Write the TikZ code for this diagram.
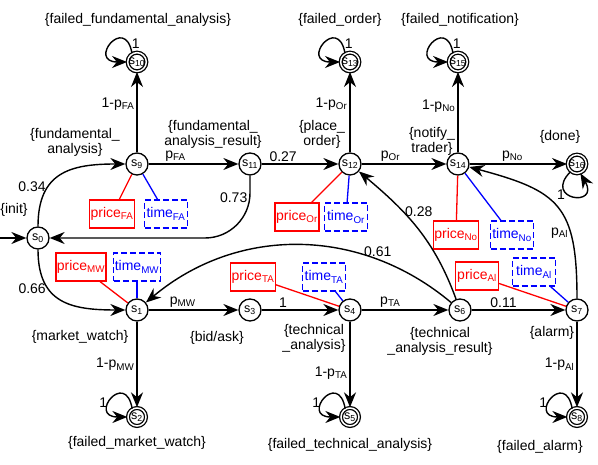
\documentclass[tikz,border=0pt]{standalone}
\usepackage{fontspec}
\setmainfont{Liberation Sans}
\usepackage{tikz}
\usetikzlibrary{arrows.meta, shapes, positioning, calc}

\begin{document}
\begin{tikzpicture}
    [
        x=1pt, y=1pt,
        every node/.style={font=\fontsize{14}{15}\selectfont},
        state/.style={circle, draw, line width=1.3pt, minimum size=22pt, inner sep=0pt, font=\fontsize{12.5}{13}\selectfont},
        absorbing/.style={state, double, line width=1.3pt, double distance=1.5pt, minimum size=18pt},
        trans/.style={line width=1.4pt, -{Stealth[length=15pt, width=12pt]}},
        prob/.style={inner sep=2pt},
        price box/.style={draw=priceRed, text=priceRed, line width=1.3pt, minimum width=43pt, minimum height=28pt, inner sep=1pt},
        time box/.style={draw=timeBlue, text=timeBlue, line width=1.3pt, dash pattern=on 6pt off 3pt, minimum width=43pt, minimum height=28pt, inner sep=1pt},
        price link/.style={draw=priceRed, line width=1.3pt},
        time link/.style={draw=timeBlue, line width=1.3pt}
    ]
    \definecolor{priceRed}{rgb}{1, 0, 0}
    \definecolor{timeBlue}{rgb}{0, 0, 1}
    \useasboundingbox (0,0) rectangle (598,465);

    \node [state] (s0) at (38,227) {s\textsubscript{0}};
    \node [state] (s1) at (137,155) {s\textsubscript{1}};
    \node [absorbing] (s2) at (137,48) {s\textsubscript{2}};
    \node [state] (s3) at (250,155) {s\textsubscript{3}};
    \node [state] (s4) at (350,155) {s\textsubscript{4}};
    \node [absorbing] (s5) at (350,48) {s\textsubscript{5}};
    \node [state] (s6) at (460,155) {s\textsubscript{6}};
    \node [state] (s7) at (577,155) {s\textsubscript{7}};
    \node [absorbing] (s8) at (577,48) {s\textsubscript{8}};
    \node [state] (s9) at (137,301) {s\textsubscript{9}};
    \node [absorbing] (s10) at (137,403) {s\textsubscript{10}};
    \node [state] (s11) at (250,301) {s\textsubscript{11}};
    \node [state] (s12) at (350,301) {s\textsubscript{12}};
    \node [absorbing] (s13) at (350,403) {s\textsubscript{13}};
    \node [state] (s14) at (458,301) {s\textsubscript{14}};
    \node [absorbing] (s15) at (458,403) {s\textsubscript{15}};
    \node [absorbing] (s16) at (577,301) {s\textsubscript{16}};

    \node (lInit) at (14,255) {\{init\}};
    \node (lFailFA) at (138,445) {\{failed\_fundamental\_analysis\}};
    \node (lFailOr) at (340,445) {\{failed\_order\}};
    \node (lFailNo) at (460,445) {\{failed\_notification\}};
    \node [align=center] (lFA) at (75,323) {\{fundamental\_\\analysis\}};
    \node [align=center] (lFAres) at (213,331) {\{fundamental\_\\analysis\_result\}};
    \node [align=center] (lOr) at (322,331) {\{place\_\\order\}};
    \node [align=center] (lNo) at (432,324) {\{notify\_\\trader\}};
    \node (lDone) at (560,328) {\{done\}};
    \node (lMW) at (80,128) {\{market\_watch\}};
    \node (lBid) at (217,127) {\{bid/ask\}};
    \node [align=center] (lTA) at (314,127) {\{technical\\\_analysis\}};
    \node [align=center] (lTAres) at (440,124) {\{technical\\\_analysis\_result\}};
    \node (lAl) at (552,132) {\{alarm\}};
    \node (lFailMW) at (137,22) {\{failed\_market\_watch\}};
    \node (lFailTA) at (350,20) {\{failed\_technical\_analysis\}};
    \node (lFailAl) at (540,18) {\{failed\_alarm\}};

    \node [price box] (pFA) at (112,251) {price\textsubscript{FA}};
    \node [time box] (tFA) at (166,251) {time\textsubscript{FA}};
    \node [price box] (pMW) at (81,198) {price\textsubscript{MW}};
    \node [time box] (tMW) at (137,198) {time\textsubscript{MW}};
    \node [price box] (pTA) at (253,188) {price\textsubscript{TA}};
    \node [time box] (tTA) at (324,188) {time\textsubscript{TA}};
    \node [price box] (pOr) at (297,248) {price\textsubscript{Or}};
    \node [time box] (tOr) at (346,248) {time\textsubscript{Or}};
    \node [price box] (pNo) at (456,230) {price\textsubscript{No}};
    \node [time box] (tNo) at (512,230) {time\textsubscript{No}};
    \node [price box] (pAl) at (477,189) {price\textsubscript{Al}};
    \node [time box] (tAl) at (534,193) {time\textsubscript{Al}};

    \draw [price link] (s9) -- (pFA);
    \draw [time link] (s9) -- (tFA);
    \draw [price link] (s1) -- (pMW);
    \draw [time link] (s1) -- (tMW);
    \draw [price link] (s4) -- (pTA);
    \draw [time link] (s4) -- (tTA);
    \draw [price link] (s12) -- (pOr);
    \draw [time link] (s12) -- (tOr);
    \draw [price link] (s14) -- (pNo);
    \draw [time link] (s14) -- (tNo);
    \draw [price link] (s7) -- (pAl);
    \draw [time link] (s7) -- (tAl);

    \coordinate (start) at (0,227);
    \draw [trans] (start) -- (s0);
    \draw [trans] (s0) to[out=90, in=180, looseness=1.3] node[prob, pos=0.33, left] {0.34} (s9);
    \draw [trans] (s0) to[out=270, in=180, looseness=1.3] node[prob, pos=0.33, left] {0.66} (s1);
    \draw [trans] (s9) -- node[prob, pos=0.3, above] {p\textsubscript{FA}} (s11);
    \draw [trans] (s9) -- node[prob, pos=0.6, left] {1-p\textsubscript{FA}} (s10);
    \draw [trans] (s11) -- node[prob, pos=0.28, above] {0.27} (s12);
    \draw [trans, rounded corners=45pt] (s11) |- node[prob, pos=0.18, left] {0.73} (s0);
    \draw [trans] (s12) -- node[prob, pos=0.34, above] {p\textsubscript{Or}} (s14);
    \draw [trans] (s12) -- node[prob, pos=0.6, left] {1-p\textsubscript{Or}} (s13);
    \draw [trans] (s14) -- node[prob, pos=0.44, above] {p\textsubscript{No}} (s16);
    \draw [trans] (s14) -- node[prob, pos=0.58, left] {1-p\textsubscript{No}} (s15);
    \draw [trans] (s1) -- node[prob, pos=0.38, above] {p\textsubscript{MW}} (s3);
    \draw [trans] (s1) -- node[prob, pos=0.5, left] {1-p\textsubscript{MW}} (s2);
    \draw [trans] (s3) -- node[prob, pos=0.28, above] {1} (s4);
    \draw [trans] (s4) -- node[prob, pos=0.33, above] {p\textsubscript{TA}} (s6);
    \draw [trans] (s4) -- node[prob, pos=0.6, left] {1-p\textsubscript{TA}} (s5);
    \draw [trans] (s6) -- node[prob, pos=0.34, above] {0.11} (s7);
    \draw [trans] (s7) -- node[prob, pos=0.5, left] {1-p\textsubscript{Al}} (s8);
    \draw [trans] (s6) to[out=110, in=-40] node[prob, pos=0.65, right] {0.28} (s12);
    \draw [trans] (s6) to[out=140, in=40] node[prob, pos=0.25, above] {0.61} (s1);
    \draw [trans] (s7) to[out=90, in=-15, looseness=1.4] node[prob, pos=0.3, left] {p\textsubscript{Al}} (s14);

    \draw [trans] (s10.120) .. controls +(100:40) and +(180:40) .. (s10.180) node[prob, pos=0.1, right] {1};
    \draw [trans] (s13.120) .. controls +(100:40) and +(180:40) .. (s13.180) node[prob, pos=0.1, right] {1};
    \draw [trans] (s15.120) .. controls +(100:40) and +(180:40) .. (s15.180) node[prob, pos=0.1, right] {1};
    \draw [trans] (s2.120) .. controls +(100:40) and +(180:40) .. (s2.180) node[prob, pos=0.6, left] {1};
    \draw [trans] (s5.120) .. controls +(100:40) and +(180:40) .. (s5.180) node[prob, pos=0.6, left] {1};
    \draw [trans] (s8.120) .. controls +(100:40) and +(180:40) .. (s8.180) node[prob, pos=0.6, left] {1};
    \draw [trans] (s16.230) .. controls +(225:40) and +(300:40) .. (s16.290) node[prob, pos=0.4, left] {1};
\end{tikzpicture}
\end{document}
